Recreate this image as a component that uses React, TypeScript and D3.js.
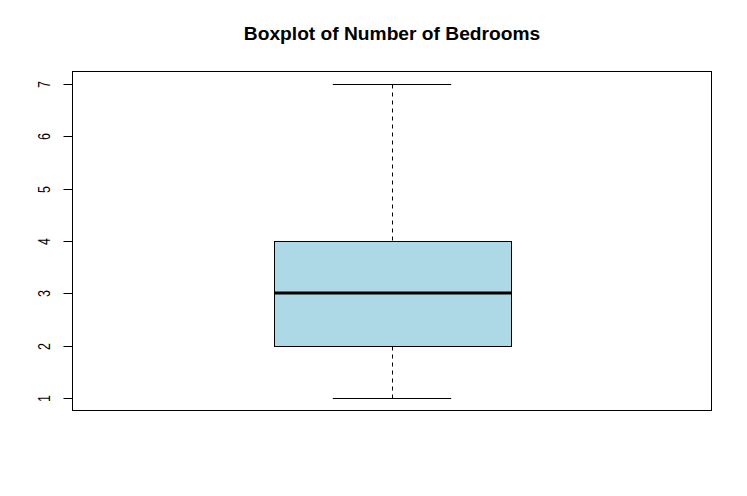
import React from "react";
import * as d3 from "d3";

// five-number summary
const groups = ["Bedrooms"];
const stats = [{ min: 1, q1: 2, median: 3, q3: 4, max: 7 }];
const yTicks = [1, 2, 3, 4, 5, 6, 7];
const title = "Boxplot of Number of Bedrooms";

const W = 747;
const H = 496;
const plot = { left: 72.5, right: 711.5, top: 71.5, bottom: 410.5 };

export default function App() {
  const x = d3.scaleLinear().domain([0.46, 1.54]).range([plot.left, plot.right]);
  const y = d3.scaleLinear().domain([0.76, 7.24]).range([plot.bottom, plot.top]);
  const font = "'Liberation Sans', Arial, sans-serif";

  return (
    <svg width={W} height={H} style={{ position: "absolute", left: 0, top: 0, background: "#fff" }}>
      <text x={392} y={40} textAnchor="middle" fontFamily={font} fontWeight="bold" fontSize={19.2} fill="#000">
        {title}
      </text>

      {stats.map((s, i) => {
        const cx = x(i + 1);
        const bw = x(1.2) - x(1);
        const cw = x(1.1) - x(1);
        const r = (v: number) => Math.round(y(v)) + 0.5;
        const mx = Math.round(cx) + 0.5;
        return (
          <g key={groups[i]}>
            <line x1={mx} x2={mx} y1={r(s.max)} y2={r(s.q3)} stroke="#000" strokeDasharray="4,4" />
            <line x1={mx} x2={mx} y1={r(s.q1)} y2={r(s.min)} stroke="#000" strokeDasharray="4,4" />
            <line x1={cx - cw} x2={cx + cw} y1={r(s.max)} y2={r(s.max)} stroke="#000" />
            <line x1={cx - cw} x2={cx + cw} y1={r(s.min)} y2={r(s.min)} stroke="#000" />
            <rect
              x={Math.round(cx - bw) + 0.5}
              y={r(s.q3)}
              width={Math.round(2 * bw)}
              height={r(s.q1) - r(s.q3)}
              fill="#ADD8E6"
              stroke="#000"
            />
            <line
              x1={Math.round(cx - bw) + 0.5}
              x2={Math.round(cx - bw) + 0.5 + Math.round(2 * bw)}
              y1={Math.round(y(s.median))}
              y2={Math.round(y(s.median))}
              stroke="#000"
              strokeWidth={3}
            />
          </g>
        );
      })}

      <rect x={plot.left} y={plot.top} width={plot.right - plot.left} height={plot.bottom - plot.top} fill="none" stroke="#000" />

      {yTicks.map((t) => {
        const ty = Math.round(y(t)) + 0.5;
        return (
          <g key={t}>
            <line x1={plot.left - 9} x2={plot.left} y1={ty} y2={ty} stroke="#000" />
            <text
              transform={`translate(50,${ty}) rotate(-90) scale(1,1.35)`}
              textAnchor="middle"
              fontFamily={font}
              fontSize={12.5}
              fill="#000"
            >
              {t}
            </text>
          </g>
        );
      })}
    </svg>
  );
}
